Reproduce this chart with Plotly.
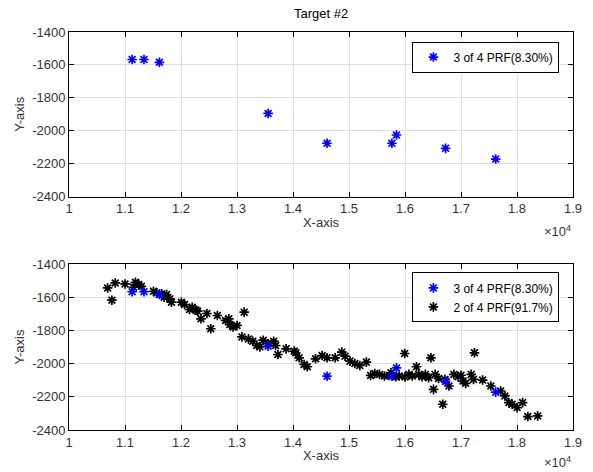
import plotly.graph_objects as go

# ---- data ----
blue_x = [11128, 11339, 11614, 13556, 14608, 15766, 15848, 16725, 17620]
blue_y = [-1567, -1567, -1584, -1895, -2076, -2076, -2026, -2107, -2172]

black_x = [10690, 10825, 10766, 11000, 11187, 11245, 11292, 11509, 11567, 11655,
           11743, 11801, 11830, 12006, 12064, 12152, 12269, 12298, 12357, 12462,
           12532, 12649, 12795, 12854, 12871, 12930, 13129, 13088, 13205, 13281,
           13351, 13409, 13468, 13655, 13690, 13731, 13877, 14023, 14110, 14198,
           14256, 14403, 14520, 14608, 14754, 14871, 14929, 15017, 15105, 15193,
           15310, 15386, 15544, 15632, 15720, 15749, 15837, 15895, 15994, 16070,
           16129, 16205, 16246, 16305, 16363, 16422, 16463, 16509, 16539, 16674,
           16714, 16785, 16872, 16948, 17036, 17083, 17182, 17240, 17223, 17386,
           17533, 17708, 17784, 17854, 17913, 18001, 18100, 18194, 18369, 11150,
           11700, 12200, 13000, 13560, 14050, 15460, 16000, 16600, 17000]
black_y = [-1544, -1514, -1618, -1520, -1510, -1524, -1534, -1564, -1574, -1580,
           -1584, -1610, -1630, -1630, -1644, -1674, -1678, -1684, -1730, -1698,
           -1790, -1710, -1740, -1730, -1765, -1779, -1690, -1839, -1851, -1865,
           -1891, -1899, -1859, -1865, -1891, -1945, -1911, -1925, -1965, -2005,
           -2019, -1971, -1951, -1965, -1965, -1931, -1955, -1985, -1999, -2011,
           -1991, -2071, -2065, -2075, -2071, -2055, -2079, -2075, -1939, -2065,
           -2075, -2019, -2065, -2079, -2065, -2085, -1965, -2155, -2065, -2245,
           -2095, -2135, -2065, -2079, -2105, -2119, -2065, -1935, -2095, -2099,
           -2135, -2165, -2195, -2235, -2245, -2265, -2235, -2319, -2315, -1540,
           -1600, -1660, -1770, -1880, -1935, -2060, -2080, -2090, -2070]

x_tickvals = [10000, 11000, 12000, 13000, 14000, 15000, 16000, 17000, 18000, 19000]
x_ticktext = ["1", "1.1", "1.2", "1.3", "1.4", "1.5", "1.6", "1.7", "1.8", "1.9"]
y_tickvals = [-2400, -2200, -2000, -1800, -1600, -1400]
y_ticktext = ["-2400", "-2200", "-2000", "-1800", "-1600", "-1400"]

name_blue = "3 of 4 PRF(8.30%)"
name_black = "2 of 4 PRF(91.7%)"

FONT = "Liberation Sans, Arial, sans-serif"

fig = go.Figure()

def star(x, y, color, name, xa, ya, legend, rank):
    return go.Scatter(
        x=x, y=y, mode="markers", name=name, xaxis=xa, yaxis=ya, legend=legend,
        legendrank=rank,
        marker=dict(symbol="asterisk-open", size=8, color=color,
                    line=dict(color=color, width=1.7)),
    )

fig.add_trace(star(blue_x, blue_y, "#0000ff", name_blue, "x", "y", "legend", 1))
fig.add_trace(star(black_x, black_y, "#000000", name_black, "x2", "y2", "legend2", 2))
fig.add_trace(star(blue_x, blue_y, "#0000ff", name_blue, "x2", "y2", "legend2", 1))

axis_common = dict(
    showline=True, linecolor="#000000", linewidth=1, mirror="ticks",
    ticks="inside", ticklen=5, tickcolor="#000000",
    showgrid=True, gridcolor="#dedede", gridwidth=1, zeroline=False,
    tickfont=dict(family=FONT, size=13, color="#333333"),
)

fig.update_layout(
    width=593, height=472,
    margin=dict(l=69, r=11, t=32, b=41),
    paper_bgcolor="white", plot_bgcolor="white",
    font=dict(family=FONT, size=13, color="#333333"),
    showlegend=True,
    xaxis=dict(domain=[0, 1], anchor="y", range=[10000, 19000],
               tickvals=x_tickvals, ticktext=x_ticktext,
               title=dict(text="X-axis", standoff=2, font=dict(size=13)), **axis_common),
    yaxis=dict(domain=[0.5865, 1], anchor="x", range=[-2400, -1400],
               tickvals=y_tickvals, ticktext=y_ticktext,
               title=dict(text="Y-axis", standoff=4, font=dict(size=13)), **axis_common),
    xaxis2=dict(domain=[0, 1], anchor="y2", range=[10000, 19000],
                tickvals=x_tickvals, ticktext=x_ticktext,
                title=dict(text="X-axis", standoff=2, font=dict(size=13)), **axis_common),
    yaxis2=dict(domain=[0, 0.417], anchor="x2", range=[-2400, -1400],
                tickvals=y_tickvals, ticktext=y_ticktext,
                title=dict(text="Y-axis", standoff=4, font=dict(size=13)), **axis_common),
    legend=dict(x=0.973, y=0.976, xanchor="right", yanchor="top",
                bgcolor="white", bordercolor="#000000", borderwidth=1,
                font=dict(family=FONT, size=12, color="#000000"),
                tracegroupgap=0, itemsizing="trace"),
    legend2=dict(x=0.973, y=0.396, xanchor="right", yanchor="top",
                 bgcolor="white", bordercolor="#000000", borderwidth=1,
                 font=dict(family=FONT, size=12, color="#000000"),
                 tracegroupgap=0, itemsizing="trace", traceorder="normal"),
    annotations=[
        dict(text="Target #2", xref="paper", yref="paper", x=0.5, y=1.0,
             xanchor="center", yanchor="bottom", yshift=9, showarrow=False,
             font=dict(family=FONT, size=13, color="#000000")),
        dict(text="×10<sup>4</sup>", xref="paper", yref="paper", x=1.0, y=0.5865,
             xanchor="right", yanchor="top", yshift=-24, showarrow=False,
             font=dict(family=FONT, size=13, color="#333333")),
        dict(text="×10<sup>4</sup>", xref="paper", yref="paper", x=1.0, y=0.0,
             xanchor="right", yanchor="top", yshift=-22, showarrow=False,
             font=dict(family=FONT, size=13, color="#333333")),
    ],
)

fig.write_html("out.html")
